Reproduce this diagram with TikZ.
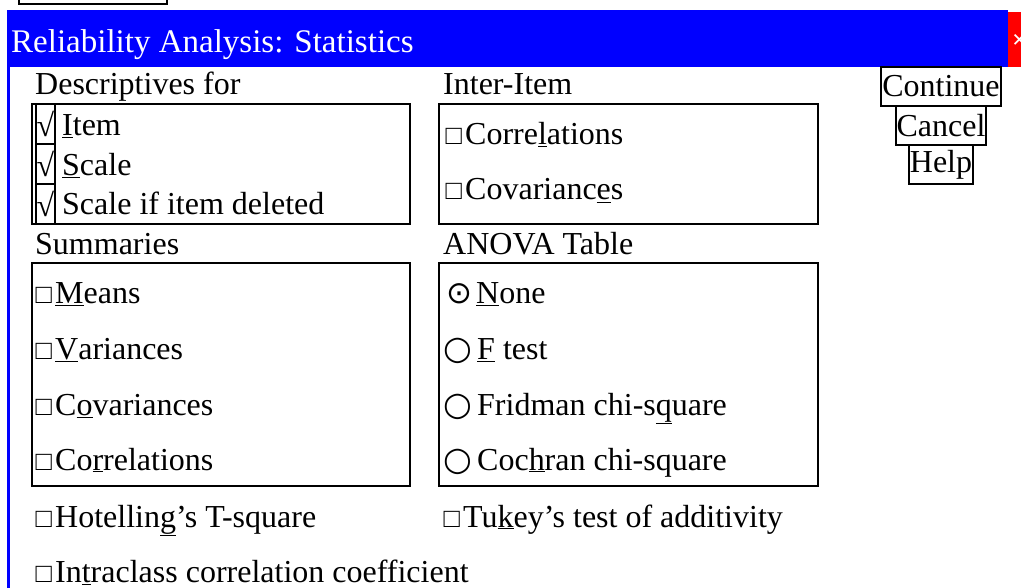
\documentclass[tikz,border=0pt]{standalone}
\usepackage{fontspec}
\setmainfont{Liberation Serif}
\newfontfamily\symfont{DejaVu Sans}
\usetikzlibrary{positioning}
\definecolor{barblue}{RGB}{0,0,255}
\definecolor{closered}{RGB}{255,0,0}
\newcommand\boxoff{\makebox[20pt][l]{\hspace{0.5pt}\fontsize{27}{30}\selectfont □}}
\newcommand\radiooff{\makebox[32pt][l]{\hspace{-1.5pt}{\symfont\fontsize{33}{36}\selectfont ○}}}
\newcommand\radioon{\makebox[31pt][l]{\hspace{1.5pt}{\symfont\fontsize{31}{34}\selectfont ⊙}}}
\tikzset{
  lbl/.style={anchor=base west, inner sep=0pt, font=\fontsize{32}{36}\selectfont},
  grp/.style={draw, line width=2pt, anchor=north west, inner sep=0pt},
  chk/.style={draw, line width=2pt, anchor=north west, inner sep=0pt,
    minimum width=19pt, minimum height=40pt, font=\fontsize{32}{36}\selectfont},
  btn/.style={draw, line width=2pt, outer sep=0pt, inner xsep=1pt, inner ysep=0pt,
    minimum height=39pt, font=\fontsize{32}{36}\selectfont},
}

\begin{document}
\begin{tikzpicture}[x=1pt, y=-1pt]
    \useasboundingbox (0,0) rectangle (1021,588);
    \clip (0,0) rectangle (1021,588);

    % 上方残留的框
    \draw[line width=2pt] (19,-20) rectangle (167,4);

    % 标题栏
    \fill[barblue] (7,10) rectangle (1008,67);
    \fill[closered] (1008,12) rectangle (1021,67);
    \node[lbl, text=white, font=\fontsize{33}{36}\selectfont] (title) at (11,53) {Reliability Analysis: Statistics};
    \node[lbl, text=white, font=\bfseries\fontsize{26}{28}\selectfont] (close) at (1012,49) {×};
    \draw[barblue, line width=3pt] (8.5,67) -- (8.5,588);

    % Descriptives for
    \node[lbl] (desc) at (35,95) {Descriptives for};
    \node[grp, minimum width=378pt, minimum height=120pt] (descbox) at (31,103) {};
    \foreach \i/\t in {0/{\underline{I}tem}, 1/{\underline{S}cale}, 2/{Scale if item deleted}} {
        \node[chk] (chk\i) at (35,103+40*\i) {√};
        \node[lbl] (item\i) at (62,136+39.5*\i) {\t};
    }

    % Inter-Item
    \node[lbl] (inter) at (443,95) {Inter-Item};
    \node[grp, minimum width=379pt, minimum height=120pt] (interbox) at (438,103) {};
    \node[lbl] (icorr) at (445,145) {\boxoff Corre\underline{l}ations};
    \node[lbl] (icov) at (445,200) {\boxoff Covarianc\underline{e}s};

    % Summaries
    \node[lbl] (summ) at (35,255) {Summaries};
    \node[grp, minimum width=378pt, minimum height=223pt] (summbox) at (31,262) {};
    \node[lbl] (smean) at (35,304) {\boxoff\underline{M}eans};
    \node[lbl] (svar) at (35,359.5) {\boxoff\underline{V}ariances};
    \node[lbl] (scov) at (35,415) {\boxoff C\underline{o}variances};
    \node[lbl] (scorr) at (35,470) {\boxoff Co\underline{r}relations};

    % ANOVA Table
    \node[lbl] (anova) at (443,255) {ANOVA Table};
    \node[grp, minimum width=379pt, minimum height=223pt] (anovabox) at (438,262) {};
    \node[lbl] (anone) at (445,304) {\radioon\underline{N}one};
    \node[lbl] (aftest) at (445,359.5) {\radiooff\underline{F} test};
    \node[lbl] (afrid) at (445,415) {\radiooff Fridman chi-s\underline{q}uare};
    \node[lbl] (acoch) at (445,470) {\radiooff Coc\underline{h}ran chi-square};

    % 底部选项
    \node[lbl] (hotel) at (35,527) {\boxoff Hotellin\underline{g}’s T-square};
    \node[lbl] (tukey) at (443,527) {\boxoff Tu\underline{k}ey’s test of additivity};
    \node[lbl] (intra) at (35,582) {\boxoff In\underline{t}raclass correlation coefficient};

    % 按钮
    \node[btn] (cont) at (941,86.5) {Continue};
    \node[btn, below=0pt of cont] (cancel) {Cancel};
    \node[btn, below=0pt of cancel] (help) {Help};
\end{tikzpicture}
\end{document}
